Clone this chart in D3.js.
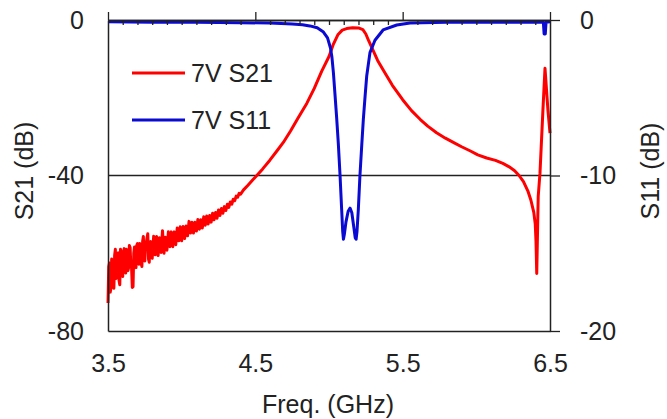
<!DOCTYPE html>
<html><head><meta charset="utf-8">
<script src="https://cdn.jsdelivr.net/npm/d3@7/dist/d3.min.js"></script>
<style>
body{margin:0;background:#fff}
svg{display:block}
text{font-family:"Liberation Sans",Arial,sans-serif;fill:#222}
</style>
</head><body>
<svg id="c" width="667" height="419"></svg>
<script>
// ---- data ----
const freqTicks = [3.5, 4.5, 5.5, 6.5];
const freqMinor = [3.6,3.7,3.8,3.9,4.0,4.1,4.2,4.3,4.4,4.6,4.7,4.8,4.9,5.0,5.1,5.2,5.3,5.4,5.6,5.7,5.8,5.9,6.0,6.1,6.2,6.3,6.4];
const s21Ticks = [-80, -40, 0];
const s11Ticks = [-20, -10, 0];
const gridS21 = [-40];
const seriesNames = ["7V S21", "7V S11"];

// S21 (dB) vs frequency (GHz)
const s21 = [
[3.50,-72.8],[3.505,-63.5],[3.51,-62.5],[3.515,-70.0],[3.52,-69.0],[3.525,-61.5],[3.53,-62.0],[3.535,-68.5],[3.54,-69.0],[3.545,-60.5],
[3.55,-59.0],[3.555,-66.5],[3.56,-66.2],[3.565,-60.5],[3.57,-59.9],[3.575,-67.0],[3.58,-68.1],[3.585,-59.0],[3.59,-60.8],[3.595,-65.5],
[3.60,-66.0],[3.605,-59.5],[3.61,-58.8],[3.615,-64.5],[3.62,-65.1],[3.625,-59.0],[3.63,-59.4],[3.635,-64.5],[3.64,-63.7],[3.645,-58.0],
[3.65,-58.5],[3.655,-63.0],[3.66,-63.8],[3.665,-68.8],[3.67,-68.6],[3.675,-60.0],[3.68,-58.4],[3.685,-63.0],[3.69,-63.7],[3.695,-58.0],
[3.70,-57.5],[3.705,-62.0],[3.71,-62.8],[3.715,-57.5],[3.72,-58.1],[3.725,-62.5],[3.73,-63.4],[3.735,-57.0],[3.74,-55.7],[3.745,-61.0],
[3.75,-62.0],[3.755,-57.5],[3.76,-57.3],[3.765,-56.0],[3.77,-55.0],[3.775,-61.5],[3.78,-62.3],[3.785,-57.5],[3.79,-57.0],[3.795,-61.0],
[3.80,-61.3],[3.81,-55.6],[3.82,-60.4],[3.83,-55.7],[3.84,-60.6],[3.85,-56.0],[3.86,-59.8],[3.87,-54.2],[3.88,-60.0],
[3.89,-55.9],[3.90,-59.2],[3.91,-54.5],[3.92,-58.3],[3.93,-54.5],[3.94,-58.3],[3.95,-54.5],[3.96,-57.8],[3.97,-53.5],[3.98,-56.8],
[3.99,-53.2],[4.00,-56.8],[4.01,-53.1],[4.02,-56.2],[4.03,-53.0],[4.04,-55.5],[4.05,-51.8],[4.06,-54.8],[4.07,-52.0],[4.08,-54.8],
[4.09,-52.0],[4.10,-54.3],[4.11,-51.3],[4.12,-53.8],[4.13,-51.4],[4.14,-53.5],[4.15,-50.6],[4.16,-52.8],[4.17,-50.4],[4.18,-52.5],
[4.19,-50.3],[4.20,-52.0],[4.21,-49.7],[4.22,-51.4],[4.23,-49.5],[4.24,-51.0],[4.25,-48.9],[4.26,-50.3],[4.27,-48.5],[4.28,-49.7],
[4.29,-48.0],[4.30,-49.0],[4.31,-47.4],[4.32,-48.2],[4.33,-46.8],[4.34,-47.4],[4.35,-46.1],[4.36,-46.5],[4.37,-45.3],[4.38,-45.6],
[4.39,-44.6],[4.40,-44.8],[4.42,-43.7],[4.45,-42.5],[4.48,-41.2],[4.51,-40.0],[4.55,-38.3],[4.60,-36.0],[4.65,-33.5],[4.69,-31.5],
[4.74,-28.5],[4.79,-25.2],[4.85,-21.4],[4.90,-17.6],[4.95,-13.2],[5.00,-9.4],[5.03,-6.2],[5.06,-3.8],[5.09,-2.6],[5.12,-2.2],
[5.16,-2.0],[5.20,-2.05],[5.23,-2.5],[5.25,-3.6],[5.27,-5.4],[5.30,-7.9],[5.33,-10.4],[5.37,-13.0],[5.43,-16.8],[5.50,-20.5],
[5.56,-23.3],[5.62,-25.6],[5.67,-27.3],[5.73,-29.0],[5.79,-30.4],[5.85,-31.6],[5.90,-32.6],[5.96,-33.7],[6.01,-34.7],[6.07,-35.5],
[6.13,-36.1],[6.18,-36.9],[6.22,-37.7],[6.26,-38.8],[6.29,-40.0],[6.32,-41.6],[6.35,-44.0],[6.37,-46.3],[6.39,-49.5],[6.40,-52.5],
[6.405,-57.0],[6.41,-65.2],[6.42,-45.4],[6.432,-39.4],[6.452,-23.2],[6.466,-12.4],[6.486,-23.2],[6.50,-29.1]
];

// S11 (dB) vs frequency (GHz)
const s11 = [
[3.50,-0.12],[3.80,-0.14],[4.10,-0.15],[4.40,-0.17],[4.60,-0.20],[4.75,-0.25],[4.82,-0.30],[4.87,-0.38],[4.92,-0.50],[4.96,-0.75],
[4.99,-1.15],[5.01,-1.80],[5.02,-2.40],[5.03,-3.40],[5.04,-4.70],[5.052,-6.30],[5.063,-7.90],[5.075,-10.0],[5.086,-12.2],[5.093,-13.6],
[5.098,-14.1],[5.104,-13.8],[5.115,-13.0],[5.13,-12.3],[5.143,-12.1],[5.155,-12.4],[5.168,-13.3],[5.178,-14.0],[5.184,-14.1],[5.19,-13.6],
[5.199,-12.2],[5.21,-10.0],[5.222,-8.1],[5.233,-6.4],[5.245,-4.9],[5.256,-3.6],[5.278,-2.1],[5.312,-1.3],[5.367,-0.64],[5.46,-0.32],
[5.55,-0.20],[5.80,-0.15],[6.10,-0.15],[6.455,-0.15],[6.46,-0.90],[6.468,-0.90],[6.473,-0.15],[6.50,-0.12]
];

// ---- layout ----
const L = 108, R = 550, T = 20, B = 331;
const svg = d3.select("#c");
const x = d3.scaleLinear().domain([3.5, 6.5]).range([L, R]);
const yL = d3.scaleLinear().domain([-80, 0]).range([B, T]);
const yR = d3.scaleLinear().domain([-20, 0]).range([B, T]);
const FS = 25;
const hyphenInt = d => String(Math.round(d));

// grid line
svg.append("g").selectAll("line").data(gridS21).join("line")
  .attr("x1", L).attr("x2", R).attr("y1", d => yL(d)).attr("y2", d => yL(d))
  .attr("stroke", "#222").attr("stroke-width", 1.3);

// lines
const lineL = d3.line().x(d => x(d[0])).y(d => yL(d[1]));
const lineR = d3.line().x(d => x(d[0])).y(d => yR(d[1]));
svg.append("path").datum(s21).attr("d", lineL).attr("fill", "none")
  .attr("stroke", "#ff0000").attr("stroke-width", 3).attr("stroke-linejoin", "round");
svg.append("path").datum(s11).attr("d", lineR).attr("fill", "none")
  .attr("stroke", "#0a0ad2").attr("stroke-width", 3).attr("stroke-linejoin", "round");

// axes
function styleAxis(g) {
  g.select(".domain").attr("stroke", "#222").attr("stroke-width", 1.5);
  g.selectAll(".tick line").attr("stroke", "#222").attr("stroke-width", 1.3);
  g.selectAll("text").style("font-size", FS + "px").style("font-family", '"Liberation Sans",Arial,sans-serif').attr("fill", "#222");
}
// top: major outward, minor inward
svg.append("g").attr("transform", `translate(0,${T})`)
  .call(d3.axisTop(x).tickValues(freqMinor).tickSize(-5).tickSizeOuter(0).tickFormat(""))
  .call(styleAxis);
svg.append("g").attr("transform", `translate(0,${T})`)
  .call(d3.axisTop(x).tickValues(freqTicks).tickSize(8).tickSizeOuter(0).tickFormat(""))
  .call(styleAxis);
// bottom labels
svg.append("g").attr("transform", `translate(0,${B})`)
  .call(d3.axisBottom(x).tickValues(freqTicks).tickSize(0).tickPadding(23).tickFormat(d3.format(".1f")))
  .call(styleAxis);
// left
svg.append("g").attr("transform", `translate(${L},0)`)
  .call(d3.axisLeft(yL).tickValues(s21Ticks).tickSize(0).tickPadding(24).tickFormat(hyphenInt))
  .call(styleAxis);
// right
svg.append("g").attr("transform", `translate(${R},0)`)
  .call(d3.axisRight(yR).tickValues(s11Ticks).tickSize(10).tickSizeOuter(0).tickPadding(20).tickFormat(hyphenInt))
  .call(styleAxis);

// axis titles
svg.append("text").attr("transform", `translate(33,171) rotate(-90)`)
  .attr("text-anchor", "middle").style("font-size", FS + "px").text("S21 (dB)");
svg.append("text").attr("transform", `translate(659,171) rotate(-90)`)
  .attr("text-anchor", "middle").style("font-size", FS + "px").text("S11 (dB)");
svg.append("text").attr("x", 328).attr("y", 413)
  .attr("text-anchor", "middle").style("font-size", FS + "px").text("Freq. (GHz)");

// legend
const legColors = ["#ff0000", "#0a0ad2"];
const legY = [73, 120];
const leg = svg.append("g");
seriesNames.forEach((n, i) => {
  leg.append("line").attr("x1", 132).attr("x2", 185).attr("y1", legY[i]).attr("y2", legY[i])
    .attr("stroke", legColors[i]).attr("stroke-width", 3);
  leg.append("text").attr("x", 191).attr("y", legY[i] + 9).style("font-size", FS + "px").text(n);
});
</script>
</body></html>
